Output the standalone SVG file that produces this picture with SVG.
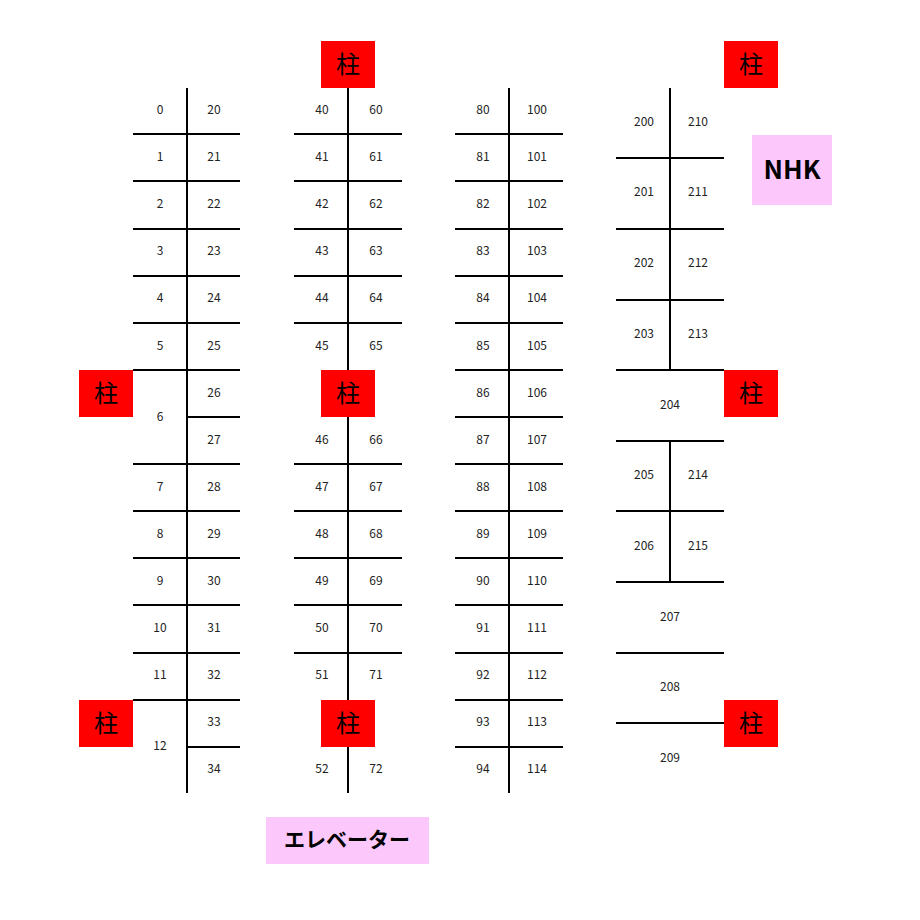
<svg xmlns="http://www.w3.org/2000/svg" width="920" height="920" viewBox="0 0 920 920">
<style>
.l{stroke:#000;stroke-width:2;fill:none}
.t{font-family:"Noto Sans CJK JP","Liberation Sans",sans-serif;font-size:12px;text-anchor:middle;dominant-baseline:central;fill:#222}
.p{fill:#f00}
.pt{font-family:"Noto Sans CJK JP",sans-serif;font-size:24px;text-anchor:middle;dominant-baseline:central;fill:#000}
.b{fill:#fcc8fc}
.bt{font-family:"Noto Sans CJK JP",sans-serif;font-size:26px;font-weight:bold;text-anchor:middle;dominant-baseline:central;fill:#000}
</style>
<rect width="920" height="920" fill="#fff"/>
<g id="connectors">
<path class="l" d="M187 88V793M133 134H240M133 181H240M133 229H240M133 276H240M133 323H240M133 370H240M187 417H240M133 464H240M133 511H240M133 558H240M133 605H240M133 653H240M133 700H240M187 747H240"/>
<path class="l" d="M348 88V793M294 134H402M294 181H402M294 229H402M294 276H402M294 323H402M294 464H402M294 511H402M294 558H402M294 605H402M294 653H402"/>
<path class="l" d="M509 88V793M455 134H563M455 181H563M455 229H563M455 276H563M455 323H563M455 370H563M455 417H563M455 464H563M455 511H563M455 558H563M455 605H563M455 653H563M455 700H563M455 747H563"/>
<path class="l" d="M670 88V370M616 158H724M616 229H724M616 300H724M616 370H724M616 441H724M670 441V582M616 511H724M616 582H724M616 653H724M616 723H724"/>
</g>
<g id="labels" transform="translate(0,-1.5)">
<text class="t" x="160" y="110">0</text><text class="t" x="214" y="110">20</text>
<text class="t" x="160" y="157">1</text><text class="t" x="214" y="157">21</text>
<text class="t" x="160" y="204">2</text><text class="t" x="214" y="204">22</text>
<text class="t" x="160" y="251">3</text><text class="t" x="214" y="251">23</text>
<text class="t" x="160" y="298">4</text><text class="t" x="214" y="298">24</text>
<text class="t" x="160" y="346">5</text><text class="t" x="214" y="346">25</text>
<text class="t" x="160" y="417">6</text><text class="t" x="214" y="393">26</text><text class="t" x="214" y="440">27</text>
<text class="t" x="160" y="487">7</text><text class="t" x="214" y="487">28</text>
<text class="t" x="160" y="534">8</text><text class="t" x="214" y="534">29</text>
<text class="t" x="160" y="581">9</text><text class="t" x="214" y="581">30</text>
<text class="t" x="160" y="628">10</text><text class="t" x="214" y="628">31</text>
<text class="t" x="160" y="675">11</text><text class="t" x="214" y="675">32</text>
<text class="t" x="160" y="746">12</text><text class="t" x="214" y="722">33</text><text class="t" x="214" y="769">34</text>
<text class="t" x="322" y="110">40</text><text class="t" x="376" y="110">60</text>
<text class="t" x="322" y="157">41</text><text class="t" x="376" y="157">61</text>
<text class="t" x="322" y="204">42</text><text class="t" x="376" y="204">62</text>
<text class="t" x="322" y="251">43</text><text class="t" x="376" y="251">63</text>
<text class="t" x="322" y="298">44</text><text class="t" x="376" y="298">64</text>
<text class="t" x="322" y="346">45</text><text class="t" x="376" y="346">65</text>
<text class="t" x="322" y="440">46</text><text class="t" x="376" y="440">66</text>
<text class="t" x="322" y="487">47</text><text class="t" x="376" y="487">67</text>
<text class="t" x="322" y="534">48</text><text class="t" x="376" y="534">68</text>
<text class="t" x="322" y="581">49</text><text class="t" x="376" y="581">69</text>
<text class="t" x="322" y="628">50</text><text class="t" x="376" y="628">70</text>
<text class="t" x="322" y="675">51</text><text class="t" x="376" y="675">71</text>
<text class="t" x="322" y="769">52</text><text class="t" x="376" y="769">72</text>
<text class="t" x="483" y="110">80</text><text class="t" x="537" y="110">100</text>
<text class="t" x="483" y="157">81</text><text class="t" x="537" y="157">101</text>
<text class="t" x="483" y="204">82</text><text class="t" x="537" y="204">102</text>
<text class="t" x="483" y="251">83</text><text class="t" x="537" y="251">103</text>
<text class="t" x="483" y="298">84</text><text class="t" x="537" y="298">104</text>
<text class="t" x="483" y="346">85</text><text class="t" x="537" y="346">105</text>
<text class="t" x="483" y="393">86</text><text class="t" x="537" y="393">106</text>
<text class="t" x="483" y="440">87</text><text class="t" x="537" y="440">107</text>
<text class="t" x="483" y="487">88</text><text class="t" x="537" y="487">108</text>
<text class="t" x="483" y="534">89</text><text class="t" x="537" y="534">109</text>
<text class="t" x="483" y="581">90</text><text class="t" x="537" y="581">110</text>
<text class="t" x="483" y="628">91</text><text class="t" x="537" y="628">111</text>
<text class="t" x="483" y="675">92</text><text class="t" x="537" y="675">112</text>
<text class="t" x="483" y="722">93</text><text class="t" x="537" y="722">113</text>
<text class="t" x="483" y="769">94</text><text class="t" x="537" y="769">114</text>
<text class="t" x="644" y="122">200</text><text class="t" x="698" y="122">210</text>
<text class="t" x="644" y="192">201</text><text class="t" x="698" y="192">211</text>
<text class="t" x="644" y="263">202</text><text class="t" x="698" y="263">212</text>
<text class="t" x="644" y="334">203</text><text class="t" x="698" y="334">213</text>
<text class="t" x="670" y="405">204</text>
<text class="t" x="644" y="475">205</text><text class="t" x="698" y="475">214</text>
<text class="t" x="644" y="546">206</text><text class="t" x="698" y="546">215</text>
<text class="t" x="670" y="617">207</text>
<text class="t" x="670" y="687">208</text>
<text class="t" x="670" y="758">209</text>
</g>
<g id="pillars">
<g id="p1"><rect class="p" x="321" y="41" width="54" height="47"/><text class="pt" x="348" y="62">柱</text></g>
<g id="p2"><rect class="p" x="724" y="41" width="54" height="47"/><text class="pt" x="751" y="62">柱</text></g>
<g id="p3"><rect class="p" x="79" y="370" width="54" height="47"/><text class="pt" x="106" y="391">柱</text></g>
<g id="p4"><rect class="p" x="321" y="370" width="54" height="47"/><text class="pt" x="348" y="391">柱</text></g>
<g id="p5"><rect class="p" x="724" y="370" width="54" height="47"/><text class="pt" x="751" y="391">柱</text></g>
<g id="p6"><rect class="p" x="79" y="700" width="54" height="47"/><text class="pt" x="106" y="721">柱</text></g>
<g id="p7"><rect class="p" x="321" y="700" width="54" height="47"/><text class="pt" x="348" y="721">柱</text></g>
<g id="p8"><rect class="p" x="724" y="700" width="54" height="47"/><text class="pt" x="751" y="721">柱</text></g>
</g>
<g id="nhk"><rect class="b" x="752" y="135" width="80" height="70"/><text class="bt" x="792" y="167">NHK</text></g>
<g id="elevator"><rect class="b" x="266" y="817" width="163" height="47"/><text class="bt" x="347" y="838" style="font-size:21px">エレベーター</text></g>
</svg>
